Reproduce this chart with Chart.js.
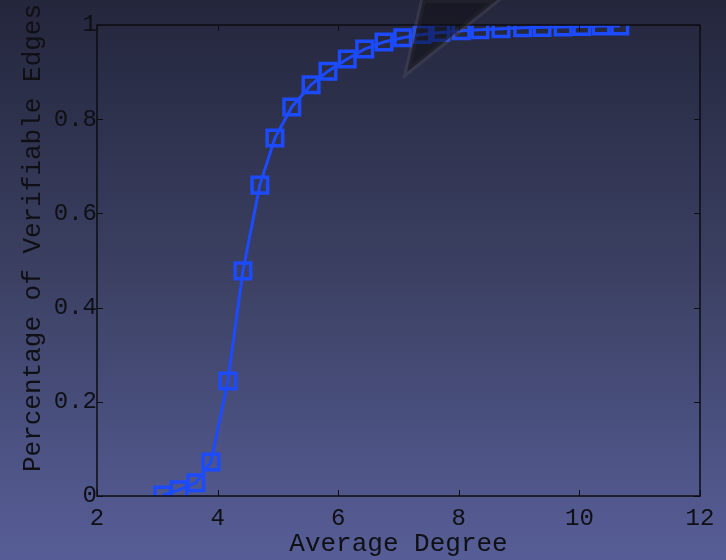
<!DOCTYPE html>
<html>
<head>
<meta charset="utf-8">
<script src="https://cdn.jsdelivr.net/npm/chart.js@4/dist/chart.umd.min.js"></script>
<style>
  html, body { margin: 0; padding: 0; background: #3a3f60; }
  #wrap { width: 726px; height: 560px; position: relative; }
</style>
</head>
<body>
<div id="wrap"><canvas id="chart" width="726" height="560"></canvas></div>
<script>
// Datos
const avgDegree = [3.09, 3.36, 3.64, 3.89, 4.17, 4.42, 4.70, 4.95, 5.23, 5.55, 5.83, 6.15, 6.44,
	6.76, 7.07, 7.39, 7.70, 8.04, 8.35, 8.70, 9.06, 9.38, 9.73, 10.04, 10.36, 10.67];
const verifiable = [0.002, 0.013, 0.028, 0.072, 0.244, 0.478, 0.660, 0.760, 0.826, 0.873, 0.902, 0.928, 0.949,
	0.964, 0.973, 0.980, 0.984, 0.988, 0.990, 0.992, 0.994, 0.995, 0.996, 0.997, 0.998, 0.998];
const xTicks = [2, 4, 6, 8, 10, 12];
const yTicks = [0, 0.2, 0.4, 0.6, 0.8, 1];

const yTitle = 'Percentage of Verifiable Edges';
const xTitle = 'Average Degree';

const fontFamily = '"Liberation Mono", "DejaVu Sans Mono", monospace';
const lineColor = '#1c4bff';

// Fondo degradado
const background = {
	id: 'background',
	beforeDraw(chart) {
		const { ctx, width, height } = chart;
		const g = ctx.createLinearGradient(0, 0, 0, height);
		g.addColorStop(0, '#24263c');
		g.addColorStop(0.5, '#3c4164');
		g.addColorStop(1, '#575e97');
		ctx.save();
		ctx.fillStyle = g;
		ctx.fillRect(0, 0, width, height);
		ctx.restore();
	}
};

// Marco y marcas hacia adentro
const frame = {
	id: 'frame',
	afterDatasetsDraw(chart) {
		const { ctx, chartArea: a, scales } = chart;
		const len = 6;
		ctx.save();
		ctx.strokeStyle = '#0d0d12';
		ctx.lineWidth = 1.5;
		ctx.strokeRect(a.left, a.top, a.right - a.left, a.bottom - a.top);
		ctx.lineWidth = 1;
		ctx.beginPath();
		xTicks.forEach((v) => {
			const px = Math.round(scales.x.getPixelForValue(v)) + 0.5;
			ctx.moveTo(px, a.bottom); ctx.lineTo(px, a.bottom - len);
			ctx.moveTo(px, a.top); ctx.lineTo(px, a.top + len);
		});
		yTicks.forEach((v) => {
			const py = Math.round(scales.y.getPixelForValue(v)) + 0.5;
			ctx.moveTo(a.left, py); ctx.lineTo(a.left + len, py);
			ctx.moveTo(a.right, py); ctx.lineTo(a.right - len, py);
		});
		ctx.stroke();
		ctx.restore();
	},
	afterDraw(chart) {
		const { ctx } = chart;
		ctx.save();
		// titulo del eje y
		ctx.translate(33, 238);
		ctx.rotate(-Math.PI / 2);
		ctx.fillStyle = '#0f0f14';
		ctx.font = '26px ' + fontFamily;
		ctx.textAlign = 'center';
		ctx.textBaseline = 'middle';
		ctx.fillText(yTitle, 0, 0);
		ctx.restore();

		// triángulo oscuro encima
		ctx.save();
		ctx.beginPath();
		ctx.moveTo(407, 72);
		ctx.lineTo(423, 0);
		ctx.lineTo(497, 0);
		ctx.closePath();
		ctx.strokeStyle = 'rgba(90,90,100,0.3)';
		ctx.lineWidth = 6;
		ctx.stroke();
		ctx.fillStyle = 'rgba(14,14,18,0.55)';
		ctx.fill();
		ctx.restore();
	}
};

const noPad = (scale) => {
	scale.paddingTop = 0;
	scale.paddingBottom = 0;
	scale.paddingLeft = 0;
	scale.paddingRight = 0;
};

const config = {
	type: 'scatter',
	data: {
		datasets: [{
			data: avgDegree.map((x, i) => ({ x, y: verifiable[i] })),
			showLine: true,
			borderColor: lineColor,
			borderWidth: 3,
			tension: 0,
			pointStyle: 'rect',
			pointRadius: 11,
			pointBorderWidth: 3.5,
			pointBorderColor: lineColor,
			pointBackgroundColor: 'rgba(0,0,0,0)'
		}]
	},
	options: {
		responsive: false,
		animation: false,
		layout: { padding: { top: 25, right: 26, left: 0, bottom: 0 } },
		plugins: { legend: { display: false }, tooltip: { enabled: false } },
		scales: {
			x: {
				type: 'linear',
				min: 2,
				max: 12,
				afterBuildTicks: (s) => { s.ticks = xTicks.map((v) => ({ value: v })); },
				afterFit: (s) => { s.height = 64; noPad(s); },
				grid: { display: false, drawTicks: false },
				border: { display: false },
				ticks: {
					color: '#0f0f14',
					font: { family: fontFamily, size: 24 },
					padding: 8,
					maxRotation: 0
				},
				title: {
					display: true,
					text: xTitle,
					color: '#0f0f14',
					font: { family: fontFamily, size: 26 },
					padding: { top: 0, bottom: 0 }
				}
			},
			y: {
				type: 'linear',
				min: 0,
				max: 1,
				afterBuildTicks: (s) => { s.ticks = yTicks.map((v) => ({ value: v })); },
				afterFit: (s) => { s.width = 97; noPad(s); },
				grid: { display: false, drawTicks: false },
				border: { display: false },
				ticks: {
					color: '#0f0f14',
					font: { family: fontFamily, size: 24 },
					padding: 0,
					callback: (v) => String(v)
				}
			}
		}
	},
	plugins: [background, frame]
};

const canvas = document.getElementById('chart');
const graph = new Chart(canvas, config);
</script>
</body>
</html>
